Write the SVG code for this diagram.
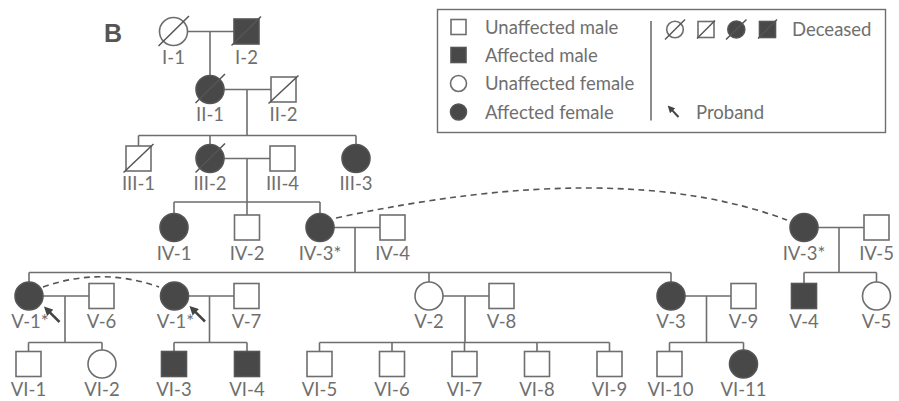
<svg xmlns="http://www.w3.org/2000/svg" width="899" height="401" viewBox="0 0 899 401">
<style>
.ln{fill:none;stroke:#6e6e6e;stroke-width:1.6}
.dash{fill:none;stroke:#555;stroke-width:1.6;stroke-dasharray:6 4.5}
.u{fill:#fff;stroke:#6e6e6e;stroke-width:1.6}
.a{fill:#484848;stroke:#555;stroke-width:1.6}
.sl{stroke:#555;stroke-width:1.5}
.pr{stroke:#444;fill:none}
.t{font-family:Lato,"Liberation Sans",sans-serif;font-weight:400;font-size:18.5px;fill:#6f6f6f;text-anchor:middle}
.lt{font-family:Lato,"Liberation Sans",sans-serif;font-weight:400;font-size:18.5px;fill:#6f6f6f}
.b{font-family:"Liberation Sans",Arial,sans-serif;font-weight:bold;font-size:25px;fill:#555}
</style>
<defs>
<marker id="ah" viewBox="0 0 10 10" refX="5.5" refY="5" markerWidth="3.6" markerHeight="3.6" orient="auto" markerUnits="strokeWidth">
<path d="M0,0 L10,5 L0,10 z" fill="#444"/>
</marker>
</defs>
<rect width="899" height="401" fill="#fff"/>
<text class="b" x="104" y="41.5">B</text>

<g id="legend">
<rect x="437.5" y="9.5" width="448" height="123" fill="none" stroke="#6e6e6e" stroke-width="1.4"/>
<rect class="u" x="451" y="19.5" width="15" height="15"/>
<text class="lt" x="485" y="33.5">Unaffected male</text>
<rect class="a" x="451" y="47.5" width="15" height="15"/>
<text class="lt" x="485" y="61.5">Affected male</text>
<circle class="u" cx="458.5" cy="83.5" r="8"/>
<text class="lt" x="485" y="90">Unaffected female</text>
<circle class="a" cx="458.5" cy="112" r="8"/>
<text class="lt" x="485" y="118.5">Affected female</text>
<line class="ln" x1="651" y1="21" x2="651" y2="120.5"/>
<circle class="u" cx="675" cy="29.5" r="8.3"/>
<line class="sl" x1="665" y1="39.5" x2="685" y2="19.5"/>
<rect class="u" x="698" y="21.5" width="16" height="16"/>
<line class="sl" x1="697" y1="38.5" x2="715" y2="20.5"/>
<circle class="a" cx="736.3" cy="29.5" r="8.5"/>
<line class="sl" x1="726" y1="39.5" x2="746.5" y2="19.5"/>
<rect class="a" x="759.5" y="21.5" width="16" height="16"/>
<line class="sl" x1="758" y1="38.5" x2="777" y2="19.5"/>
<text class="lt" x="792" y="36">Deceased</text>
<line class="pr" x1="678.5" y1="117" x2="669.9" y2="107.9" stroke-width="2" marker-end="url(#ah)"/>
<text class="lt" x="696" y="118.5">Proband</text>
</g>

<g id="connectors">
<path class="ln" d="M187.5 31.5H234M210 31.5V75.5"/>
<path class="ln" d="M224 89.5H271M247 89.5V135.5"/>
<path class="ln" d="M138.5 135.5H356M138.5 135.5V146M210 135.5V144.5M356 135.5V144.5"/>
<path class="ln" d="M224 158.5H270M247 158.5V202"/>
<path class="ln" d="M174 202H320M174 202V213.5M247 202V215M320 202V213.5"/>
<path class="ln" d="M334 227.5H380M355 227.5V272.5"/>
<path class="ln" d="M29 272.5H671M29 272.5V282M429 272.5V282M671 272.5V282"/>
<path class="ln" d="M43 296H89M65 296V342.5M28.5 342.5H102M28.5 342.5V351.5M102 342.5V350"/>
<path class="ln" d="M188.5 296H234M209.5 296V342.5M174 342.5H247M174 342.5V351.5M247 342.5V351.5"/>
<path class="ln" d="M443 296H489M465 296V342.5M319.5 342.5H609.5M319.5 342.5V351.5M392 342.5V351.5M464.5 342.5V351.5M537 342.5V351.5M609.5 342.5V351.5"/>
<path class="ln" d="M685 296H731M706.5 296V342.5M669.5 342.5H743.5M669.5 342.5V351.5M743.5 342.5V350"/>
<path class="ln" d="M818 227.5H864M839 227.5V272.5M804 272.5H876.5M804 272.5V283.5M876.5 272.5V282"/>
<path class="dash" d="M336 218Q618.5 157 787 220"/>
<path class="dash" d="M43 287Q101 266.5 159 287"/>
<line class="pr" x1="59.5" y1="322" x2="46.8" y2="309.3" stroke-width="2.5" marker-end="url(#ah)"/>
<line class="pr" x1="205" y1="321.5" x2="192.3" y2="308.8" stroke-width="2.5" marker-end="url(#ah)"/>
</g>

<g id="I-1"><circle class="u" cx="173.5" cy="31.5" r="14"/><line class="sl" x1="158.5" y1="46" x2="189" y2="16"/><text class="t" x="173.5" y="64">I-1</text></g>
<g id="I-2"><rect class="a" x="234" y="19" width="25" height="25"/><line class="sl" x1="231.5" y1="45.5" x2="261" y2="16.5"/><text class="t" x="246.5" y="64">I-2</text></g>

<g id="II-1"><circle class="a" cx="210" cy="89.5" r="14"/><line class="sl" x1="195.5" y1="103" x2="225" y2="74"/><text class="t" x="210" y="121">II-1</text></g>
<g id="II-2"><rect class="u" x="271" y="77" width="25" height="25"/><line class="sl" x1="268.5" y1="103.5" x2="298.5" y2="75.5"/><text class="t" x="283.5" y="121">II-2</text></g>

<g id="III-1"><rect class="u" x="126" y="146" width="25" height="25"/><line class="sl" x1="123.5" y1="172.5" x2="153.5" y2="144"/><text class="t" x="138.5" y="190">III-1</text></g>
<g id="III-2"><circle class="a" cx="210" cy="158.5" r="14"/><line class="sl" x1="195.5" y1="172.5" x2="225" y2="143.5"/><text class="t" x="210" y="190">III-2</text></g>
<g id="III-4"><rect class="u" x="270" y="146" width="25" height="25"/><text class="t" x="282.5" y="190">III-4</text></g>
<g id="III-3"><circle class="a" cx="356" cy="158.5" r="14"/><text class="t" x="356" y="190">III-3</text></g>

<g id="IV-1"><circle class="a" cx="174" cy="227.5" r="14"/><text class="t" x="174" y="259.5">IV-1</text></g>
<g id="IV-2"><rect class="u" x="234.5" y="215" width="25" height="25"/><text class="t" x="247" y="259.5">IV-2</text></g>
<g id="IV-3"><circle class="a" cx="320" cy="227.5" r="14"/><text class="t" x="320" y="259.5">IV-3*</text></g>
<g id="IV-4"><rect class="u" x="380" y="215" width="25" height="25"/><text class="t" x="392.5" y="259.5">IV-4</text></g>
<g id="IV-3-dup"><circle class="a" cx="804" cy="227.5" r="14"/><text class="t" x="804" y="259.5">IV-3*</text></g>
<g id="IV-5"><rect class="u" x="864" y="215" width="25" height="25"/><text class="t" x="876.5" y="259.5">IV-5</text></g>

<g id="V-1"><circle class="a" cx="29" cy="296" r="14"/><text class="t" x="30" y="328">V-1*</text></g>
<g id="V-6"><rect class="u" x="89" y="283.5" width="25" height="25"/><text class="t" x="101.5" y="328">V-6</text></g>
<g id="V-1-dup"><circle class="a" cx="174.5" cy="296" r="14"/><text class="t" x="175.5" y="328">V-1*</text></g>
<g id="V-7"><rect class="u" x="234" y="283.5" width="25" height="25"/><text class="t" x="246.5" y="328">V-7</text></g>
<g id="V-2"><circle class="u" cx="429" cy="296" r="14"/><text class="t" x="429" y="328">V-2</text></g>
<g id="V-8"><rect class="u" x="489" y="283.5" width="25" height="25"/><text class="t" x="501.5" y="328">V-8</text></g>
<g id="V-3"><circle class="a" cx="671" cy="296" r="14"/><text class="t" x="671" y="328">V-3</text></g>
<g id="V-9"><rect class="u" x="731" y="283.5" width="25" height="25"/><text class="t" x="743.5" y="328">V-9</text></g>
<g id="V-4"><rect class="a" x="791.5" y="283.5" width="25" height="25"/><text class="t" x="804" y="328">V-4</text></g>
<g id="V-5"><circle class="u" cx="876.5" cy="296" r="14"/><text class="t" x="876.5" y="328">V-5</text></g>

<g id="VI-1"><rect class="u" x="16" y="351.5" width="25" height="25"/><text class="t" x="28.5" y="396">VI-1</text></g>
<g id="VI-2"><circle class="u" cx="102" cy="364" r="14"/><text class="t" x="102" y="396">VI-2</text></g>
<g id="VI-3"><rect class="a" x="161.5" y="351.5" width="25" height="25"/><text class="t" x="174" y="396">VI-3</text></g>
<g id="VI-4"><rect class="a" x="234.5" y="351.5" width="25" height="25"/><text class="t" x="247" y="396">VI-4</text></g>
<g id="VI-5"><rect class="u" x="307" y="351.5" width="25" height="25"/><text class="t" x="319.5" y="396">VI-5</text></g>
<g id="VI-6"><rect class="u" x="379.5" y="351.5" width="25" height="25"/><text class="t" x="392" y="396">VI-6</text></g>
<g id="VI-7"><rect class="u" x="452" y="351.5" width="25" height="25"/><text class="t" x="464.5" y="396">VI-7</text></g>
<g id="VI-8"><rect class="u" x="524.5" y="351.5" width="25" height="25"/><text class="t" x="537" y="396">VI-8</text></g>
<g id="VI-9"><rect class="u" x="597" y="351.5" width="25" height="25"/><text class="t" x="609.5" y="396">VI-9</text></g>
<g id="VI-10"><rect class="u" x="657" y="351.5" width="25" height="25"/><text class="t" x="670.5" y="396">VI-10</text></g>
<g id="VI-11"><circle class="a" cx="743.5" cy="364" r="14"/><text class="t" x="743.5" y="396">VI-11</text></g>
</svg>
